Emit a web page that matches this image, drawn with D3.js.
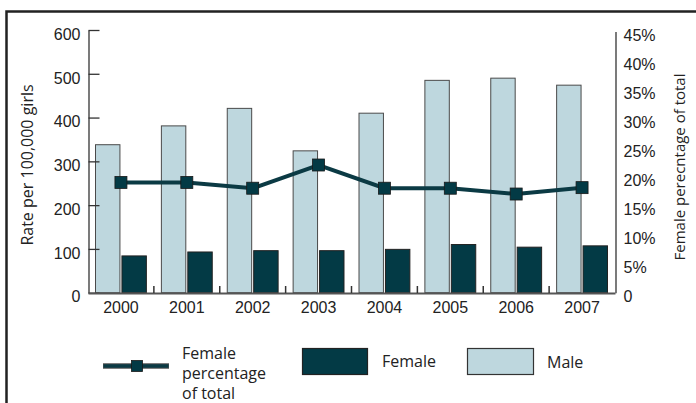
<!DOCTYPE html>
<html>
<head>
<meta charset="utf-8">
<script src="https://cdn.jsdelivr.net/npm/d3@7/dist/d3.min.js"></script>
<style>
  html, body { margin: 0; padding: 0; background: #fff; }
  svg { display: block; font-family: "Open Sans", sans-serif; }
</style>
</head>
<body>
<svg id="chart" width="696" height="403"></svg>
<script>
const years = ["2000", "2001", "2002", "2003", "2004", "2005", "2006", "2007"];
const maleRate = [338, 381, 421, 324, 410, 485, 490, 474];
const femaleRate = [84, 93, 96, 96, 99, 110, 104, 107];
const femalePct = [0.19, 0.19, 0.18, 0.22, 0.18, 0.18, 0.17, 0.181];
const leftTicks = [0, 100, 200, 300, 400, 500, 600];
const rightTicks = [0, 0.05, 0.10, 0.15, 0.20, 0.25, 0.30, 0.35, 0.40, 0.45];
const seriesNames = ["Male", "Female"];

const dark = "#033a45";
const light = "#bed7de";
const fs = 16;
const svg = d3.select("#chart");

// frame
svg.append("rect").attr("x", 6.5).attr("y", 11.5).attr("width", 720).attr("height", 420)
  .attr("fill", "none").attr("stroke", "#222").attr("stroke-width", 2.5);

const x = d3.scaleBand().domain(years).range([88, 615]).paddingInner(0).paddingOuter(0);
const x1 = d3.scaleBand().domain(seriesNames).range([0, x.bandwidth()])
  .paddingInner(0.076).paddingOuter(0.284);
const yL = d3.scaleLinear().domain([0, 600]).range([292.7, 30]);
const yR = d3.scaleLinear().domain([0, 0.45]).range([292.7, 31.5]);

// bars
const groups = svg.append("g").selectAll("g").data(years).join("g")
  .attr("transform", d => `translate(${x(d)},0)`);
groups.append("rect")
  .attr("x", x1("Male")).attr("width", x1.bandwidth())
  .attr("y", (d, i) => yL(maleRate[i])).attr("height", (d, i) => yL(0) - yL(maleRate[i]))
  .attr("fill", light).attr("stroke", "#4a4a4a").attr("stroke-width", 1);
groups.append("rect")
  .attr("x", x1("Female")).attr("width", x1.bandwidth())
  .attr("y", (d, i) => yL(femaleRate[i])).attr("height", (d, i) => yL(0) - yL(femaleRate[i]))
  .attr("fill", dark).attr("stroke", "#222").attr("stroke-width", 1);

// left axis
const gL = svg.append("g").attr("transform", "translate(88.5,0)")
  .call(d3.axisLeft(yL).tickValues(leftTicks).tickSizeInner(-11).tickSizeOuter(0).tickPadding(8));
gL.select(".domain").attr("stroke", "#333").attr("stroke-width", 1.3);
gL.selectAll(".tick line").attr("stroke", "#333").attr("stroke-width", 1.3);
gL.selectAll("text").attr("font-size", fs).attr("fill", "#222").attr("dy", "0.58em");

// right axis
const gR = svg.append("g").attr("transform", "translate(615.5,0)")
  .call(d3.axisRight(yR).tickValues(rightTicks).tickSize(0).tickPadding(8)
    .tickFormat(d => d === 0 ? "0" : Math.round(d * 100) + "%"));
gR.select(".domain").attr("stroke", "#333").attr("stroke-width", 1.3);
gR.selectAll("text").attr("font-size", fs).attr("fill", "#222").attr("dy", "0.58em");

// x axis
const gX = svg.append("g").attr("transform", "translate(0,293)")
  .call(d3.axisBottom(x).tickSize(0).tickPadding(9));
gX.select(".domain").attr("stroke", "#555").attr("stroke-width", 2);
gX.selectAll("text").attr("font-size", fs).attr("fill", "#222");
svg.append("g").selectAll("line").data(years.slice(1)).join("line")
  .attr("x1", d => x(d)).attr("x2", d => x(d))
  .attr("y1", 293).attr("y2", 286)
  .attr("stroke", "#333").attr("stroke-width", 1.5);

// line series
const cx = d => x(d) + x.bandwidth() / 2;
const line = d3.line().x((d, i) => cx(years[i])).y(d => yR(d));
svg.append("path").datum(femalePct).attr("d", line)
  .attr("fill", "none").attr("stroke", "#0b3a44").attr("stroke-width", 4);
svg.append("g").selectAll("rect").data(femalePct).join("rect")
  .attr("x", (d, i) => cx(years[i]) - 6).attr("y", d => yR(d) - 6)
  .attr("width", 12).attr("height", 12)
  .attr("fill", dark).attr("stroke", "#1a1a1a").attr("stroke-width", 0.8);

// axis titles
svg.append("text").attr("transform", "translate(33,165) rotate(-90)")
  .attr("text-anchor", "middle").attr("font-size", fs).attr("fill", "#222")
  .text("Rate per 100,000 girls");
svg.append("text").attr("transform", "translate(685,167) rotate(-90)")
  .attr("text-anchor", "middle").attr("font-size", 15).attr("fill", "#222")
  .text("Female perecntage of total");

// legend
const lg = svg.append("g");
lg.append("line").attr("x1", 103).attr("x2", 169).attr("y1", 366).attr("y2", 366)
  .attr("stroke", "#555").attr("stroke-width", 5.5);
lg.append("line").attr("x1", 103.5).attr("x2", 168.5).attr("y1", 366).attr("y2", 366)
  .attr("stroke", "#0b3a44").attr("stroke-width", 3.5);
lg.append("rect").attr("x", 131.5).attr("y", 360.5).attr("width", 11).attr("height", 11)
  .attr("fill", dark).attr("stroke", "#1a1a1a").attr("stroke-width", 0.8);
const lt = lg.append("text").attr("x", 182).attr("font-size", fs).attr("fill", "#222");
["Female", "percentage", "of total"].forEach((t, i) => {
  lt.append("tspan").attr("x", 182).attr("y", 358.5 + i * 20).text(t);
});
lg.append("rect").attr("x", 302.5).attr("y", 348.5).attr("width", 65).attr("height", 26)
  .attr("fill", dark).attr("stroke", "#222").attr("stroke-width", 1.2);
lg.append("text").attr("x", 382).attr("y", 367).attr("font-size", fs).attr("fill", "#222").text("Female");
lg.append("rect").attr("x", 467.5).attr("y", 348.5).attr("width", 66).attr("height", 26)
  .attr("fill", light).attr("stroke", "#333").attr("stroke-width", 1.2);
lg.append("text").attr("x", 547).attr("y", 368).attr("font-size", fs).attr("fill", "#222").text("Male");
</script>
</body>
</html>
